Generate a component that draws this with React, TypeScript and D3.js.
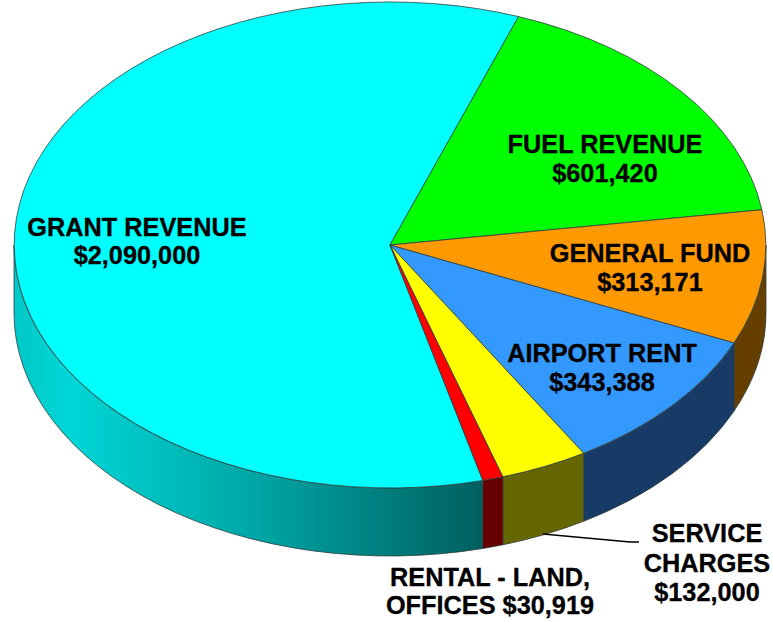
import React from "react";
import * as d3 from "d3";

const categories = ["GRANT REVENUE", "FUEL REVENUE", "GENERAL FUND", "AIRPORT RENT", "SERVICE CHARGES", "RENTAL - LAND, OFFICES"];
const values = [2090000, 601420, 313171, 343388, 132000, 30919];
const topColors = ["#00ffff", "#00ff00", "#ff9900", "#3399ff", "#ffff00", "#ff0000"];
const wallColors = ["url(#grantWall)", "#006600", "#663f00", "#173b66", "#666600", "#660000"];

// text lines and where each block sits, same order as categories
const labelLines = [
  ["GRANT REVENUE", "$2,090,000"],
  ["FUEL REVENUE", "$601,420"],
  ["GENERAL FUND", "$313,171"],
  ["AIRPORT RENT", "$343,388"],
  ["SERVICE", "CHARGES", "$132,000"],
  ["RENTAL - LAND,", "OFFICES $30,919"],
];
const labelX = [137, 605, 650, 602, 707, 490];
const labelY = [236, 153, 262, 362, 542, 586];
const lineGap = [28, 29, 29, 29, 29.5, 28];

const w = 773,
  h = 622,
  cx = 390,
  cy = 245,
  rx = 376,
  ry = 243,
  depth = 68;

const deg = Math.PI / 180;
const start = 165.7 * deg;

const slices = d3.pie<number>().sort(null).startAngle(start).endAngle(start + 2 * Math.PI)(values);

// unit circle arc, squashed into the ellipse by the group transform
const arc = d3.arc<d3.PieArcDatum<number>>().innerRadius(0).outerRadius(1);

const px = (a: number) => cx + rx * Math.sin(a);
const py = (a: number) => cy - ry * Math.cos(a);

// the wall only shows on the front half, 90deg to 270deg from the top
function wallPath(a0: number, a1: number) {
  const turn = a0 >= 2 * Math.PI ? 2 * Math.PI : 0;
  const from = Math.max(a0 - turn, 90 * deg);
  const to = Math.min(a1 - turn, 270 * deg);
  if (to <= from) return null;
  const large = to - from > Math.PI ? 1 : 0;
  return [
    `M${px(from)},${py(from)}`,
    `A${rx},${ry} 0 ${large} 1 ${px(to)},${py(to)}`,
    `L${px(to)},${py(to) + depth}`,
    `A${rx},${ry} 0 ${large} 0 ${px(from)},${py(from) + depth}`,
    "Z",
  ].join(" ");
}

const leader = d3.line()([
  [543, 534],
  [630, 542],
  [639, 542],
]);

export default function App() {
  const edge = "#2f3f3f";
  return (
    <svg width={w} height={h} viewBox={`0 0 ${w} ${h}`} style={{ position: "absolute", left: 0, top: 0 }}>
      <defs>
        <linearGradient id="grantWall" gradientUnits="userSpaceOnUse" x1={14} x2={483} y1={0} y2={0}>
          <stop offset="0" stopColor="#00c8c8" />
          <stop offset="0.12" stopColor="#00d6d6" />
          <stop offset="0.5" stopColor="#00a8a8" />
          <stop offset="1" stopColor="#005f5f" />
        </linearGradient>
      </defs>
      {slices.map((s, i) => {
        const d = wallPath(s.startAngle, s.endAngle);
        return d ? <path key={i} d={d} fill={wallColors[i]} stroke={edge} strokeWidth={0.8} /> : null;
      })}
      <g transform={`translate(${cx},${cy}) scale(${rx},${ry})`}>
        {slices.map((s, i) => (
          <path
            key={categories[i]}
            d={arc(s) || ""}
            fill={topColors[i]}
            stroke={edge}
            strokeWidth={0.8}
            vectorEffect="non-scaling-stroke"
          />
        ))}
      </g>
      <path d={leader || ""} fill="none" stroke="#000" strokeWidth={1.5} />
      <g
        fontFamily="'Liberation Sans', Arial, sans-serif"
        fontWeight="bold"
        fontSize={25.3}
        fill="#000"
        stroke="#000"
        strokeWidth={0.3}
        textAnchor="middle"
      >
        {labelLines.map((lines, i) =>
          lines.map((t, j) => (
            <text key={t} x={labelX[i]} y={labelY[i] + j * lineGap[i]}>
              {t}
            </text>
          ))
        )}
      </g>
    </svg>
  );
}
